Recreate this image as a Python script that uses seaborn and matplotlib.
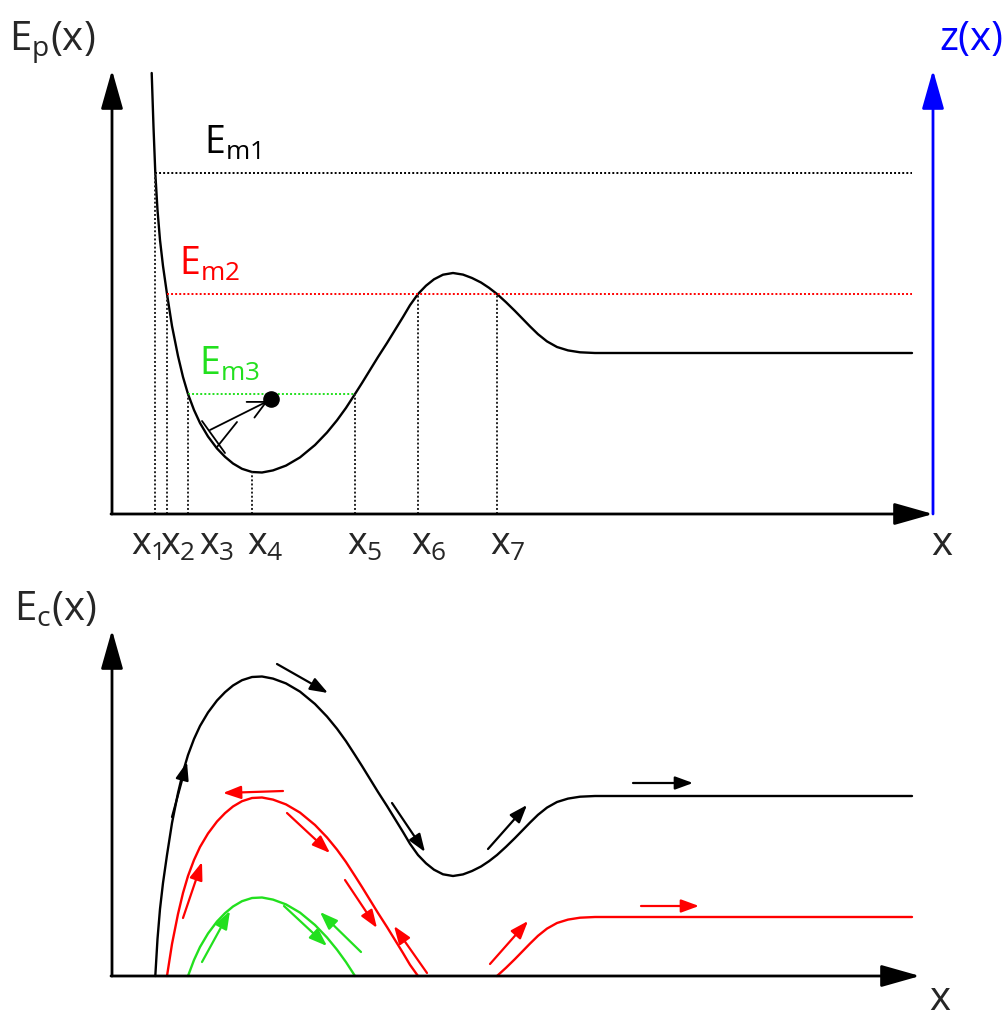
import numpy as np
import pandas as pd
import matplotlib
matplotlib.use('Agg')
import matplotlib.pyplot as plt
import seaborn as sns

# potential energy curve Ep(x) (arbitrary units)
x_pts = [0.397, 0.415, 0.433, 0.455, 0.48, 0.51, 0.55, 0.60, 0.66, 0.71, 0.76,
         0.82, 0.88, 0.96, 1.05, 1.13, 1.21, 1.30, 1.40, 1.50, 1.61, 1.74, 1.88,
         2.03, 2.15, 2.25, 2.34, 2.43, 2.50, 2.58, 2.66, 2.75, 2.83, 2.91, 2.98,
         3.06, 3.14, 3.22, 3.31, 3.41, 3.51, 3.60, 3.69, 3.77, 3.85, 3.94, 4.03,
         4.11, 4.18, 4.26, 4.35, 4.45, 4.56, 4.68, 4.83, 5.28, 8.00]
ep_pts = [4.41, 3.87, 3.41, 3.04, 2.74, 2.48, 2.20, 1.88, 1.58, 1.37, 1.20,
          1.04, 0.91, 0.775, 0.655, 0.572, 0.505, 0.452, 0.42, 0.415, 0.436, 0.484, 0.566,
          0.69, 0.815, 0.937, 1.061, 1.20, 1.31, 1.44, 1.57, 1.71, 1.84, 1.97, 2.088,
          2.20, 2.283, 2.347, 2.393, 2.41, 2.394, 2.36, 2.315, 2.262, 2.20, 2.118, 2.03,
          1.948, 1.876, 1.798, 1.726, 1.67, 1.636, 1.617, 1.61, 1.61, 1.61]

# mechanical energy levels
level_names = ['Em1', 'Em2', 'Em3']
level_values = [3.41, 2.20, 1.20]
level_colors = ['black', '#ff0000', '#22e01e']
level_labels = [r'$E_{m1}$', r'$E_{m2}$', r'$E_{m3}$']

# turning points / special abscissae
tick_x = [0.433, 0.55, 0.76, 1.40, 2.43, 3.06, 3.85]
tick_labels = [r'$x_1$', r'$x_2$', r'$x_3$', r'$x_4$', r'$x_5$', r'$x_6$', r'$x_7$']
tick_label_pos = [0.35, 0.66, 1.05, 1.53, 2.53, 3.17, 3.96]

# direction arrows on the Ec(x) curves: (level, start, end)
arrow_level = ['Em1', 'Em1', 'Em1', 'Em1', 'Em1',
               'Em2', 'Em2', 'Em2', 'Em2', 'Em2', 'Em2', 'Em2',
               'Em3', 'Em3', 'Em3']
arrow_start = [(0.60, 1.59), (1.65, 3.12), (2.80, 1.73), (3.76, 1.27), (5.21, 1.93),
               (0.71, 0.58), (1.71, 1.85), (1.75, 1.63), (2.33, 0.96), (3.15, 0.03),
               (3.78, 0.12), (5.29, 0.70),
               (0.90, 0.14), (1.72, 0.70), (2.49, 0.24)]
arrow_end = [(0.75, 2.14), (2.16, 2.83), (3.13, 1.24), (4.15, 1.71), (5.81, 1.93),
             (0.90, 1.14), (1.11, 1.83), (2.18, 1.23), (2.65, 0.48), (2.82, 0.50),
             (4.16, 0.55), (5.87, 0.70),
             (1.18, 0.65), (2.15, 0.30), (2.08, 0.64)]

# ball in the well
ball = (1.59, 1.15)

sns.set_theme(style='white')
plt.rcParams['font.family'] = ['Open Sans', 'DejaVu Sans']
plt.rcParams['mathtext.default'] = 'regular'

ep = np.array(ep_pts)
xs = np.array(x_pts)
ep_at = dict(zip(x_pts, ep_pts))
color_of = dict(zip(level_names, level_colors))

fig = plt.figure(figsize=(10.07, 10.19), dpi=100)
ax1 = fig.add_axes([0, 1 - 580 / 1019, 1, 580 / 1019])
ax2 = fig.add_axes([0, 0, 1, 439 / 1019])
for ax in (ax1, ax2):
    ax.set_axis_off()
    ax.set_xlim(-1.12, 8.95)
ax1.set_ylim(-0.66, 5.14)
ax2.set_ylim(-0.43, 3.96)

axis_kw = dict(arrowstyle='-|>,head_length=1.2,head_width=0.34', lw=2,
               shrinkA=0, shrinkB=0, mutation_scale=20)

# ---- upper panel: potential energy
ax1.annotate('', xy=(0, 4.44), xytext=(0, 0), arrowprops=dict(color='black', **axis_kw))
ax1.annotate('', xy=(8.21, 0), xytext=(-0.01, 0), arrowprops=dict(color='black', **axis_kw))
ax1.annotate('', xy=(8.21, 4.44), xytext=(8.21, 0), arrowprops=dict(color='#0000ff', **axis_kw))

sns.lineplot(x=x_pts, y=ep_pts, color='black', lw=1.7, sort=False, estimator=None, ax=ax1)

dot = (0, (1, 1.1))
for name, em, col in zip(level_names, level_values, level_colors):
    under = ep <= em + 1e-9
    first = np.argmax(under)
    if under[-1]:
        x_end = xs[-1]
    else:
        x_end = xs[first + np.argmin(under[first:]) - 1]
    ax1.hlines(em, xs[first], x_end, colors=col, linestyles=dot, lw=1.4)

for tx in tick_x:
    ax1.vlines(tx, 0, ep_at[tx], colors='#222222', linestyles=dot, lw=1.4)
for lx, lab in zip(tick_label_pos, tick_labels):
    ax1.text(lx, -0.41, lab, ha='center', va='baseline', fontsize=27)

ax1.text(0.92, 3.60, level_labels[0], color=level_colors[0], fontsize=27, va='baseline')
ax1.text(0.67, 2.39, level_labels[1], color=level_colors[1], fontsize=27, va='baseline')
ax1.text(0.87, 1.39, level_labels[2], color=level_colors[2], fontsize=27, va='baseline')
ax1.text(-1.03, 4.64, r'$E_p(x)$', fontsize=29, va='baseline')
ax1.text(8.27, 4.64, 'z(x)', fontsize=29, va='baseline', color='#0000ff')
ax1.text(8.30, -0.31, 'x', fontsize=29, ha='center', va='center')

# launcher sketch + ball
ax1.plot([0.90, 1.13], [0.93, 0.61], color='black', lw=1.3)
ax1.plot([1.05, 1.25], [0.67, 0.92], color='black', lw=1.3)
ax1.annotate('', xy=(ball[0] - 0.03, ball[1] - 0.02), xytext=(0.98, 0.84),
             arrowprops=dict(arrowstyle='->,head_length=0.9,head_width=0.45', color='black',
                             lw=1.3, shrinkA=0, shrinkB=0, mutation_scale=14))
ax1.scatter([ball[0]], [ball[1]], s=120, color='black', zorder=5)

# ---- lower panel: kinetic energy Ec = Em - Ep
rows = []
for name, em in zip(level_names, level_values):
    under = ep <= em + 1e-9
    seg = np.cumsum(np.r_[0, np.diff(under.astype(int)) != 0])
    for xv, e, u, s in zip(xs, ep, under, seg):
        if u:
            rows.append({'x': xv, 'ec': em - e, 'level': name, 'seg': f'{name}-{s}'})
ec_df = pd.DataFrame(rows)

ax2.annotate('', xy=(0, 3.46), xytext=(0, 0), arrowprops=dict(color='black', **axis_kw))
ax2.annotate('', xy=(8.08, 0), xytext=(-0.01, 0), arrowprops=dict(color='black', **axis_kw))

sns.lineplot(data=ec_df, x='x', y='ec', hue='level', units='seg', estimator=None,
             sort=False, palette=color_of, lw=1.7, legend=False, ax=ax2)

for lv, (x0, y0), (x1, y1) in zip(arrow_level, arrow_start, arrow_end):
    ax2.annotate('', xy=(x1, y1), xytext=(x0, y0),
                 arrowprops=dict(arrowstyle='-|>,head_length=0.9,head_width=0.33',
                                 color=color_of[lv], lw=1.6, shrinkA=0, shrinkB=0,
                                 mutation_scale=12))

ax2.text(-0.98, 3.56, r'$E_c(x)$', fontsize=29, va='baseline')
ax2.text(8.28, -0.24, 'x', fontsize=29, ha='center', va='center')

fig.savefig('out.png', dpi=100)
